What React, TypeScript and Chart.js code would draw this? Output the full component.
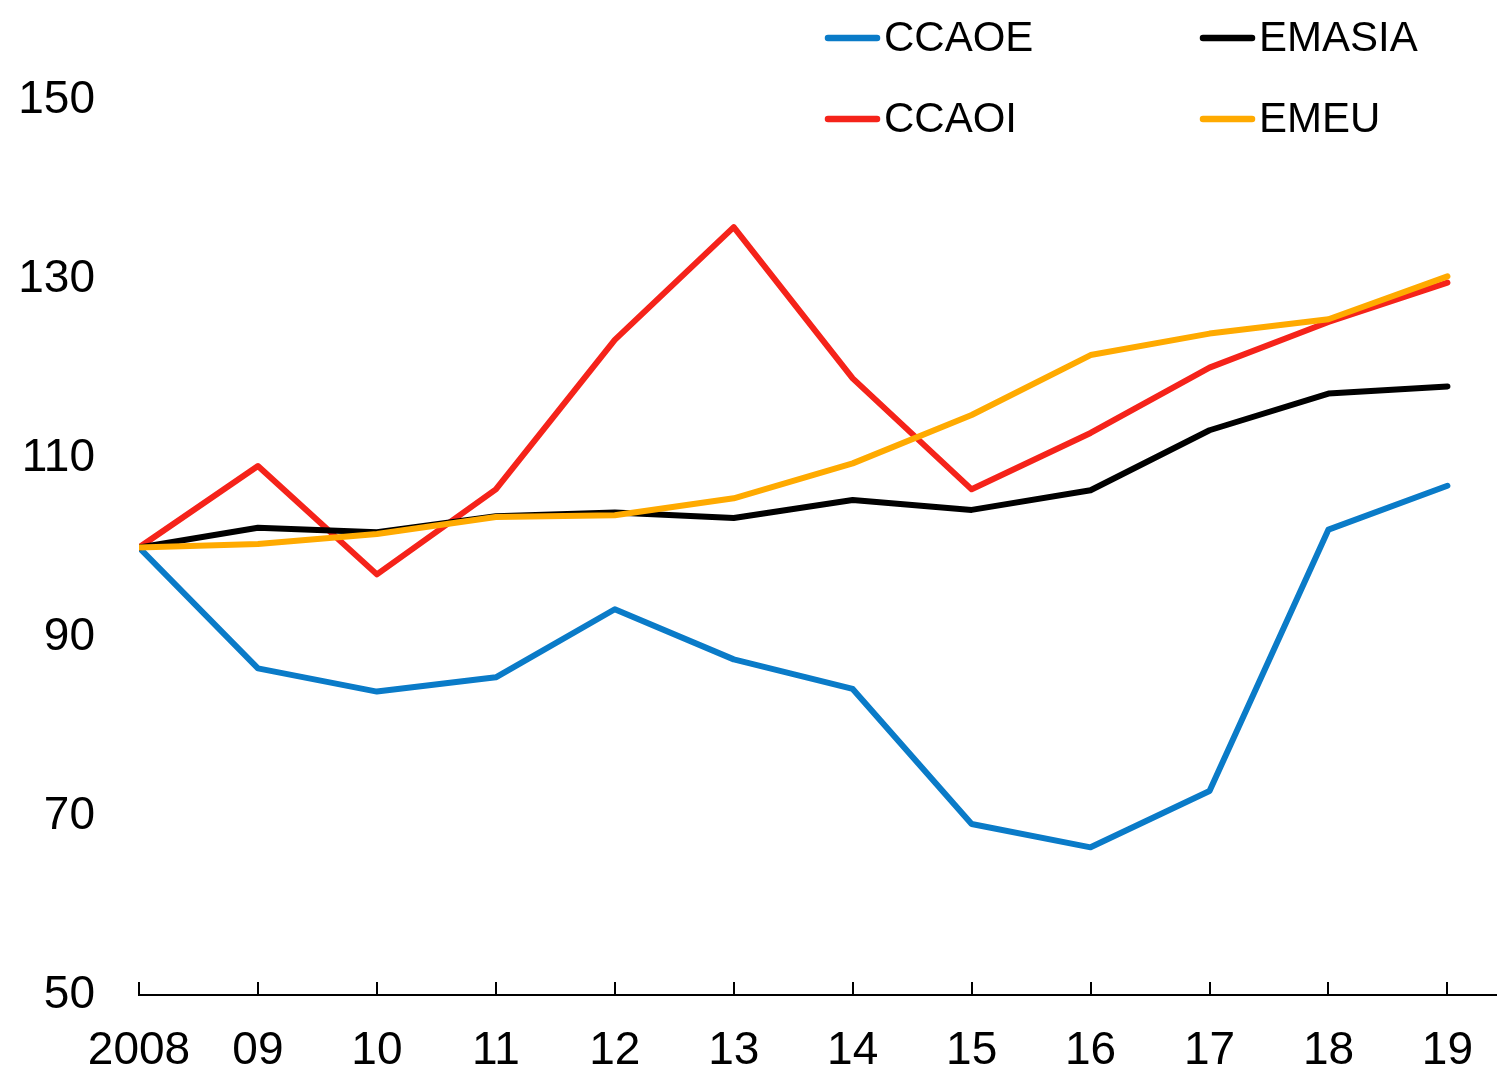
import React, { useEffect, useRef } from 'react';
import { Chart, registerables } from 'chart.js';

Chart.register(...registerables);

const years = ['2008', '09', '10', '11', '12', '13', '14', '15', '16', '17', '18', '19'];
const ccaoe = [100, 86.5, 83.9, 85.5, 93.1, 87.5, 84.2, 69.1, 66.5, 72.8, 102.0, 106.9];
const ccaoi = [100, 109.1, 97.0, 106.5, 123.2, 135.8, 118.9, 106.5, 112.8, 120.1, 125.2, 129.6];
const emasia = [100, 102.2, 101.7, 103.5, 103.9, 103.3, 105.3, 104.2, 106.4, 113.1, 117.2, 118.0];
const emeu = [100, 100.4, 101.5, 103.4, 103.6, 105.5, 109.4, 114.8, 121.5, 123.9, 125.5, 130.3];
const yTicks = [50, 70, 90, 110, 130, 150];

const FONT = "'Liberation Sans', Arial, sans-serif";

const COLORS = {
  CCAOE: '#0A7BC8',
  CCAOI: '#F5231A',
  EMASIA: '#000000',
  EMEU: '#FFAA00',
};

// legend layout: [name, column, row]
const legendItems: [keyof typeof COLORS, number, number][] = [
  ['CCAOE', 0, 0],
  ['EMASIA', 1, 0],
  ['CCAOI', 0, 1],
  ['EMEU', 1, 1],
];

const toPoints = (arr: number[]) => arr.map((v, i) => ({ x: i, y: v }));

const legendPlugin = {
  id: 'customLegend',
  afterDraw(chart: any) {
    const ctx = chart.ctx;
    const colX = [828, 1203];
    const rowY = [38, 119];
    ctx.save();
    ctx.font = `42px ${FONT}`;
    ctx.textBaseline = 'middle';
    ctx.textAlign = 'left';
    for (const [name, c, r] of legendItems) {
      const x = colX[c];
      const y = rowY[r];
      ctx.strokeStyle = COLORS[name];
      ctx.lineWidth = 6.5;
      ctx.lineCap = 'round';
      ctx.beginPath();
      ctx.moveTo(x, y);
      ctx.lineTo(x + 49, y);
      ctx.stroke();
      ctx.fillStyle = '#000';
      ctx.fillText(name, x + 56, y + 1);
    }
    ctx.restore();
  },
};

const innerTicksPlugin = {
  id: 'innerTicks',
  afterDraw(chart: any) {
    const ctx = chart.ctx;
    const xs = chart.scales.x;
    const bottom = chart.chartArea.bottom;
    ctx.save();
    ctx.strokeStyle = '#000';
    ctx.lineWidth = 2;
    ctx.beginPath();
    years.forEach((_, i) => {
      const px = Math.round(xs.getPixelForValue(i));
      ctx.moveTo(px, bottom - 13);
      ctx.lineTo(px, bottom);
    });
    ctx.stroke();
    ctx.restore();
  },
};

export default function App() {
  const ref = useRef<HTMLCanvasElement | null>(null);

  useEffect(() => {
    if (!ref.current) return;
    const common = {
      borderWidth: 6,
      pointRadius: 0,
      tension: 0,
      fill: false,
      borderCapStyle: 'round' as const,
      borderJoinStyle: 'round' as const,
    };
    const chart = new Chart(ref.current, {
      type: 'line',
      data: {
        datasets: [
          { label: 'EMEU', data: toPoints(emeu), borderColor: COLORS.EMEU, ...common },
          { label: 'EMASIA', data: toPoints(emasia), borderColor: COLORS.EMASIA, ...common },
          { label: 'CCAOI', data: toPoints(ccaoi), borderColor: COLORS.CCAOI, ...common },
          { label: 'CCAOE', data: toPoints(ccaoe), borderColor: COLORS.CCAOE, ...common },
        ],
      },
      options: {
        animation: false,
        responsive: false,
        devicePixelRatio: 1,
        layout: { padding: { top: 100, left: 0, right: 0, bottom: 0 } },
        plugins: {
          legend: { display: false },
          tooltip: { enabled: false },
        },
        scales: {
          x: {
            type: 'linear',
            min: 0,
            max: 11.41,
            grid: { display: false, drawTicks: false },
            border: { display: true, color: '#000', width: 2 },
            afterBuildTicks: (s: any) => {
              s.ticks = years.map((_, i) => ({ value: i }));
            },
            afterFit: (s: any) => {
              s.height = 77;
            },
            ticks: {
              autoSkip: false,
              maxRotation: 0,
              padding: 24,
              color: '#000',
              font: { family: FONT, size: 46, lineHeight: 1.4 },
              callback: (v: any) => years[v as number] ?? '',
            },
          },
          y: {
            min: 50,
            max: 150,
            grid: { display: false, drawTicks: false },
            border: { display: false },
            afterBuildTicks: (s: any) => {
              s.ticks = yTicks.map((v) => ({ value: v }));
            },
            afterFit: (s: any) => {
              s.width = 139;
            },
            ticks: {
              padding: 44,
              color: '#000',
              font: { family: FONT, size: 46 },
            },
          },
        },
      },
      plugins: [legendPlugin, innerTicksPlugin],
    });
    return () => chart.destroy();
  }, []);

  return (
    <div style={{ position: 'fixed', top: 0, left: 0, width: 1497, height: 1072, background: '#fff' }}>
      <canvas ref={ref} width={1497} height={1072} style={{ display: 'block' }} />
    </div>
  );
}
